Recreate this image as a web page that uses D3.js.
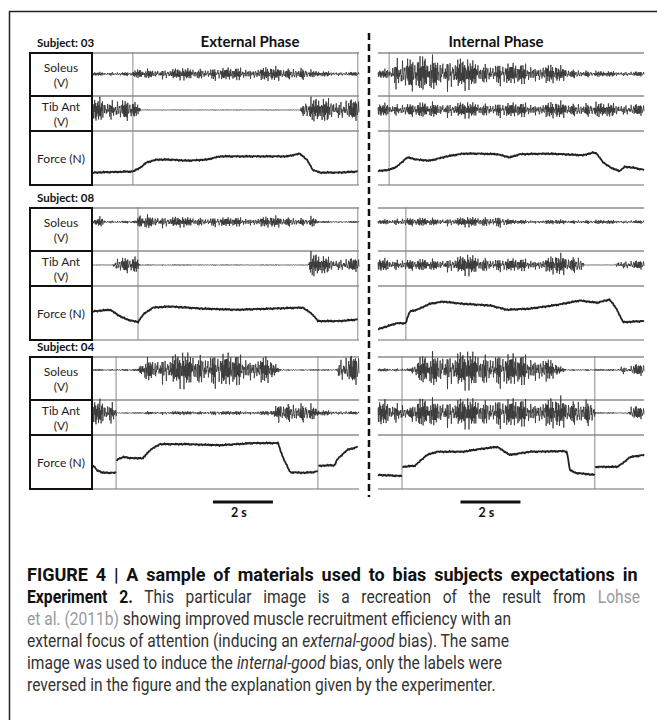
<!DOCTYPE html>
<html>
<head>
<meta charset="utf-8">
<script src="https://cdn.jsdelivr.net/npm/d3@7"></script>
<style>
  body { margin: 0; background: #fff; }
</style>
</head>
<body>
<svg id="fig" width="657" height="720"></svg>
<script>
// ---- data (time in s, force in rel. units 0-10, EMG envelope 0-1) ----
const subjects = ["03", "08", "04"];
const phases = ["External Phase", "Internal Phase"];
const channelLabels = [["Soleus", "(V)"], ["Tib Ant", "(V)"], ["Force (N)"]];
const scaleBarLabel = "2 s";
const scaleBarStart = [4.0, 2.75];
const duration = 8.87;

// force traces, null = break at trial marker
const force03Ext = [[0,2.3],[1.33,2.5],[1.57,3.2],[1.8,4.2],[2.13,4.7],[2.57,4.7],[3.13,4.5],[3.8,4.7],[4.23,5.3],[5.33,5.3],[6.47,5.3],[6.9,5.8],[7.13,4.7],[7.33,2.8],[7.57,2.3],[8.23,2.3],[8.83,2.5]];
const force03Int = [[0,2.6],[0.37,2.8],[0.63,3.4],[0.97,5.1],[1.3,4.7],[1.73,4.5],[2.3,5.3],[2.83,5.8],[3.4,5.8],[3.97,5.7],[4.4,5.1],[4.73,5.7],[5.63,5.8],[6.17,5.7],[6.83,5.5],[7.17,6.0],[7.3,5.8],[7.5,4.2],[7.83,3.0],[8.07,2.6],[8.23,3.4],[8.5,3.2],[8.87,2.8]];
const force08Ext = [[0,5.3],[0.57,5.6],[0.9,4.4],[1.13,3.8],[1.5,3.3],[1.67,4.7],[2.0,6.0],[2.57,6.2],[3.67,5.8],[4.8,5.6],[5.9,5.8],[7.0,6.0],[7.33,4.7],[7.5,3.5],[8.23,3.5],[8.83,3.8]];
const force08Int = [[0,2.0],[0.63,3.1],[0.93,3.1],[0.97,4.0],[1.07,5.3],[1.3,5.6],[1.73,6.7],[2.17,7.1],[2.83,6.7],[3.73,6.4],[4.3,5.6],[5.07,5.8],[5.97,6.5],[6.73,7.3],[7.3,6.9],[7.73,7.5],[7.97,5.6],[8.17,3.3],[8.87,3.5]];
const force04Ext = [[0,4.4],[0.13,3.5],[0.33,3.0],[0.77,3.0],[0.775,null],[0.78,5.4],[1.0,5.9],[1.33,5.7],[1.67,5.7],[1.9,7.2],[2.23,8.3],[3.13,8.3],[4.23,8.1],[5.33,8.5],[6.17,8.5],[6.33,5.9],[6.57,3.1],[7.0,3.0],[7.33,3.1],[7.5,3.3],[7.51,null],[7.52,4.3],[8.07,4.4],[8.13,5.4],[8.47,7.2],[8.83,7.8]];
const force04Int = [[0,2.6],[0.8,2.4],[0.81,null],[0.82,4.1],[1.23,4.3],[1.63,6.3],[1.97,6.9],[2.83,6.9],[3.4,7.4],[3.97,7.8],[4.4,6.3],[5.07,6.9],[6.17,7.0],[6.3,6.9],[6.4,3.5],[6.57,3.0],[7.23,2.6],[7.24,null],[7.25,4.1],[7.97,4.1],[8.17,4.8],[8.4,5.9],[8.87,6.3]];

// EMG amplitude envelopes
const soleus03Ext = [[0,0.1],[1.3,0.12],[1.5,0.25],[3,0.3],[5,0.35],[7,0.35],[7.4,0.15],[8.87,0.12]];
const tib03Ext = [[0,0.85],[1.2,0.8],[1.45,0.5],[1.6,0.03],[6.9,0.03],[7.1,0.8],[8.87,0.85]];
const soleus03Int = [[0,0.2],[0.4,0.3],[0.6,1.0],[2.5,0.9],[3.5,0.6],[5.5,0.55],[6.4,0.3],[7.2,0.15],[8.87,0.15]];
const tib03Int = [[0,0.45],[2,0.55],[4,0.5],[6,0.55],[8.87,0.45]];
const soleus08Ext = [[0,0.08],[0.25,0.3],[0.45,0.08],[1.45,0.08],[1.55,0.4],[3,0.25],[5,0.25],[6.5,0.3],[7.1,0.2],[7.3,0.3],[7.5,0.06],[8.87,0.06]];
const tib08Ext = [[0,0.02],[0.65,0.03],[0.75,0.6],[1.45,0.6],[1.55,0.04],[7.15,0.03],[7.25,0.85],[8.0,0.5],[8.87,0.55]];
const soleus08Int = [[0,0.1],[0.9,0.25],[2,0.2],[4,0.3],[4.5,0.12],[8.87,0.1]];
const tib08Int = [[0,0.45],[2,0.4],[3,0.7],[4,0.45],[5.5,0.45],[6,0.7],[6.8,0.65],[6.9,0.02],[7.9,0.02],[8.0,0.35],[8.87,0.35]];
const soleus04Ext = [[0,0.05],[1.5,0.06],[1.7,0.6],[3,0.9],[4.5,0.9],[5.8,0.7],[6.2,0.1],[6.4,0.04],[8.1,0.04],[8.25,0.8],[8.87,0.9]];
const tib04Ext = [[0,0.9],[0.75,0.9],[0.8,0.04],[1.6,0.05],[1.8,0.12],[6.0,0.15],[6.25,0.8],[7.2,0.7],[7.5,0.2],[8.87,0.12]];
const soleus04Int = [[0,0.08],[1.1,0.1],[1.4,0.7],[2.0,1.0],[4.0,0.9],[5.5,0.8],[6.1,0.15],[6.3,0.05],[8.0,0.05],[8.15,0.4],[8.3,0.1],[8.5,0.35],[8.87,0.35]];
const tib04Int = [[0,0.9],[0.8,0.8],[1.0,0.3],[1.3,1.0],[7.2,1.0],[7.25,0.05],[8.3,0.05],[8.45,0.6],[8.87,0.45]];

// trial start/stop markers (s)
const marks03Ext = [1.33, 8.83];
const marks03Int = [0.37];
const marks08Ext = [1.5, 8.83];
const marks08Int = [0.93];
const marks04Ext = [0.77, 7.5];
const marks04Int = [0.8, 7.23];

// spike shape used to texture the traces
const spikeA = [0.35,-0.6,0.2,-0.15,0.85,-0.4,0.5,-0.95,0.1,-0.3,0.65,-0.2,0.4,-0.75,0.25,-0.5,1.0,-0.35,0.15,-0.6,0.45,-0.1,0.7,-0.85,0.3,-0.25,0.55,-0.45,0.9,-0.2,0.05,-0.65,0.4,-0.3,0.75,-0.55,0.2,-0.4,0.6,-1.0,0.3];
const spikeB = [0.2,-0.5,0.8,-0.1,0.3,-0.9,0.4,-0.2,0.6,-0.7,0.1,-0.3,1.0,-0.4,0.5,-0.15,0.7,-0.6,0.25,-0.8,0.45,-0.05,0.35];

const trials = [
  { block: 0, phase: 0, soleus: soleus03Ext, tib: tib03Ext, force: force03Ext, marks: marks03Ext },
  { block: 0, phase: 1, soleus: soleus03Int, tib: tib03Int, force: force03Int, marks: marks03Int },
  { block: 1, phase: 0, soleus: soleus08Ext, tib: tib08Ext, force: force08Ext, marks: marks08Ext },
  { block: 1, phase: 1, soleus: soleus08Int, tib: tib08Int, force: force08Int, marks: marks08Int },
  { block: 2, phase: 0, soleus: soleus04Ext, tib: tib04Ext, force: force04Ext, marks: marks04Ext },
  { block: 2, phase: 1, soleus: soleus04Int, tib: tib04Int, force: force04Int, marks: marks04Int }
];

// ---- layout ----
const svg = d3.select("#fig");
const panelX = [[93, 359], [378, 644]];
const titleX = [250, 496];
const blockTop = [53, 208, 357];
const rowH = [43, 35, 54];
const solBase = [21, 14, 13];
const tibBase = [14, 14, 13];
const labelFont = "Lato, 'Open Sans', sans-serif";

svg.append("rect").attr("width", 657).attr("height", 720).attr("fill", "#fff");

// outer frame (only top and left edges are inside the picture)
svg.append("path")
  .attr("d", "M9.5,720 V11.5 H657")
  .attr("fill", "none")
  .attr("stroke", "#222")
  .attr("stroke-width", 1.5);

// phase titles
svg.selectAll(".phase")
  .data(phases)
  .join("text")
  .attr("x", (d, i) => titleX[i])
  .attr("y", 47)
  .attr("text-anchor", "middle")
  .style("font-family", labelFont)
  .style("font-weight", "bold")
  .style("font-size", "15px")
  .attr("fill", "#111")
  .text((d) => d);

// dashed divider
svg.append("line")
  .attr("x1", 369).attr("x2", 369)
  .attr("y1", 33).attr("y2", 497)
  .attr("stroke", "#111")
  .attr("stroke-width", 2.5)
  .attr("stroke-dasharray", "7,4");

function rowEdges(b) {
  let y0 = blockTop[b];
  return [y0, y0 + rowH[0], y0 + rowH[0] + rowH[1], y0 + rowH[0] + rowH[1] + rowH[2]];
}

// subject labels and channel boxes
subjects.forEach((s, b) => {
  let e = rowEdges(b);
  svg.append("text")
    .attr("x", 37)
    .attr("y", e[0] - 6)
    .style("font-family", labelFont)
    .style("font-weight", "bold")
    .style("font-size", "11.5px")
    .attr("fill", "#111")
    .text("Subject: " + s);

  channelLabels.forEach((lab, r) => {
    svg.append("rect")
      .attr("x", 30).attr("y", e[r])
      .attr("width", 62).attr("height", e[r + 1] - e[r])
      .attr("fill", "none")
      .attr("stroke", "#111")
      .attr("stroke-width", 2);
    let offs = r === 0 ? [19, 34] : r === 1 ? [15, 30] : [(e[3] - e[2]) / 2 + 5];
    lab.forEach((t, k) => {
      svg.append("text")
        .attr("x", 61)
        .attr("y", e[r] + offs[k])
        .attr("text-anchor", "middle")
        .style("font-family", labelFont)
        .style("font-size", "12px")
        .attr("fill", "#222")
        .text(t);
    });
  });
});

function emgPoints(env) {
  let envScale = d3.scaleLinear().domain(env.map((d) => d[0])).range(env.map((d) => d[1]));
  let n = 620;
  return d3.range(n + 1).map((i) => {
    let t = (i / n) * duration;
    let shape = spikeA[i % spikeA.length] * 0.75 + spikeB[i % spikeB.length] * 0.35;
    return [t, envScale(t) * shape];
  });
}

// force line with a light sensor fuzz, keeping the breaks at the markers
function forcePoints(force) {
  let segs = [[]];
  force.forEach((d) => {
    if (d[1] === null) segs.push([]);
    else segs[segs.length - 1].push(d);
  });
  let out = [];
  let k = 0;
  segs.forEach((seg, si) => {
    let sc = d3.scaleLinear().domain(seg.map((d) => d[0])).range(seg.map((d) => d[1]));
    let t0 = seg[0][0];
    let t1 = seg[seg.length - 1][0];
    let n = Math.max(2, Math.round(((t1 - t0) / duration) * 300));
    for (let i = 0; i <= n; i++) {
      let t = t0 + ((t1 - t0) * i) / n;
      out.push([t, sc(t) + spikeB[k % spikeB.length] * 0.15]);
      k++;
    }
    if (si < segs.length - 1) out.push([t1, null]);
  });
  return out;
}

// traces
trials.forEach((tr) => {
  let e = rowEdges(tr.block);
  let [xa, xb] = panelX[tr.phase];
  let x = d3.scaleLinear().domain([0, duration]).range([xa, xb]);
  let g = svg.append("g");

  // row lines
  [e[0], e[1], e[2]].forEach((yy) => {
    g.append("line")
      .attr("x1", xa).attr("x2", xb)
      .attr("y1", yy).attr("y2", yy)
      .attr("stroke", "#555").attr("stroke-width", 1);
  });
  g.append("line")
    .attr("x1", xa).attr("x2", xb)
    .attr("y1", e[3]).attr("y2", e[3])
    .attr("stroke", "#b5b5b5").attr("stroke-width", 2);

  // markers
  g.selectAll(".mark")
    .data(tr.marks)
    .join("line")
    .attr("x1", (d) => x(d)).attr("x2", (d) => x(d))
    .attr("y1", e[0] - 1).attr("y2", e[3])
    .attr("stroke", "#8a8a8a").attr("stroke-width", 1);

  // EMG rows
  let emgRows = [
    { env: tr.soleus, base: e[0] + solBase[tr.block], half: 21 },
    { env: tr.tib, base: e[1] + tibBase[tr.block], half: 16 }
  ];
  emgRows.forEach((row) => {
    let y = d3.scaleLinear().domain([-1, 1]).range([row.base + row.half, row.base - row.half]);
    g.append("path")
      .datum(emgPoints(row.env))
      .attr("d", d3.line().x((d) => x(d[0])).y((d) => y(d[1])))
      .attr("fill", "none")
      .attr("stroke", "#2e2e2e")
      .attr("stroke-width", 0.75);
  });

  // force
  let yF = d3.scaleLinear().domain([0, 10]).range([e[3], e[2]]);
  g.append("path")
    .datum(forcePoints(tr.force))
    .attr("d", d3.line().defined((d) => d[1] !== null).x((d) => x(d[0])).y((d) => yF(d[1])))
    .attr("fill", "none")
    .attr("stroke", "#222")
    .attr("stroke-width", 1.8)
    .attr("stroke-linejoin", "round");
});

// scale bars
phases.forEach((p, i) => {
  let x = d3.scaleLinear().domain([0, duration]).range(panelX[i]);
  let s0 = scaleBarStart[i];
  svg.append("line")
    .attr("x1", x(s0)).attr("x2", x(s0 + 2))
    .attr("y1", 502).attr("y2", 502)
    .attr("stroke", "#111").attr("stroke-width", 3);
  svg.append("text")
    .attr("x", x(s0 + 1) - 4)
    .attr("y", 517)
    .attr("text-anchor", "middle")
    .style("font-family", labelFont)
    .style("font-weight", "bold")
    .style("font-size", "12.5px")
    .attr("fill", "#111")
    .text(scaleBarLabel);
});

// caption: condensed runs, the first two lines justified to the column width
const captionLines = [
  [["FIGURE 4 | A sample of materials used to bias subjects expectations in", "b"]],
  [["Experiment 2.", "b"], [" This particular image is a recreation of the result from ", ""], ["Lohse", "link"]],
  [["et al. (2011b)", "link"], [" showing improved muscle recruitment efficiency with an", ""]],
  [["external focus of attention (inducing an ", ""], ["external-good", "i"], [" bias). The same", ""]],
  [["image was used to induce the ", ""], ["internal-good", "i"], [" bias, only the labels were", ""]],
  [["reversed in the figure and the explanation given by the experimenter.", ""]]
];
const captionJustify = [611, 613, 0, 0, 0, 0];
const boldScale = [1.03, 0.9];

captionLines.forEach((line, li) => {
  let y = 581 + li * 22;
  let runs = line.map(([str, kind]) => {
    let t = svg.append("text")
      .attr("x", 0).attr("y", 0)
      .style("white-space", "pre")
      .style("font-family", "Roboto, 'Liberation Sans', sans-serif")
      .style("font-size", "17.5px")
      .attr("fill", "#333")
      .text(str);
    if (kind === "b") t.style("font-weight", "bold").attr("fill", "#111");
    if (kind === "i") t.style("font-style", "italic");
    if (kind === "link") t.attr("fill", "#9a9a9a");
    let s = kind === "b" ? boldScale[li] : 0.89;
    let spaces = (str.match(/ /g) || []).length;
    return { t, s, spaces, w: t.node().getComputedTextLength() };
  });
  let natural = d3.sum(runs, (r) => r.w * r.s);
  let spaceUnits = d3.sum(runs, (r) => r.spaces * r.s);
  let ws = captionJustify[li] ? Math.max(0, (captionJustify[li] - natural) / spaceUnits) : 0;
  let cx = 27;
  runs.forEach((r) => {
    r.t.style("word-spacing", ws + "px")
      .attr("transform", `translate(${cx},${y}) scale(${r.s},1)`);
    cx += (r.w + r.spaces * ws) * r.s;
  });
});
</script>
</body>
</html>
